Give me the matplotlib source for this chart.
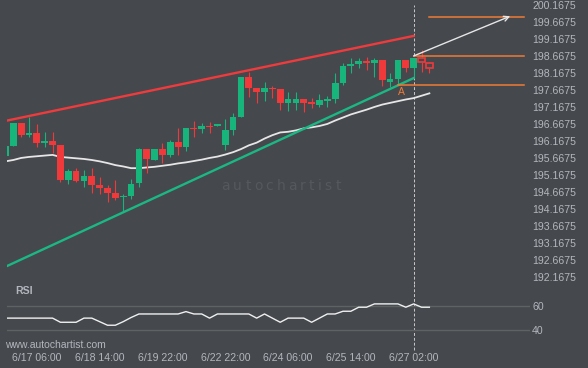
import matplotlib
matplotlib.use("Agg")
import matplotlib.pyplot as plt
from matplotlib.patches import Rectangle
import numpy as np

# 4h candles, GBP/JPY style chart
opens = [195.73, 196.02, 196.70, 196.34, 196.40, 196.09, 196.16, 196.04, 195.01, 195.28,
         194.99, 195.13, 194.86, 194.78, 194.63, 194.50, 194.55, 194.91, 195.92, 195.60,
         195.91, 195.75, 196.14, 195.99, 196.55, 196.52, 196.60, 196.61, 196.04, 196.48,
         196.87, 198.05, 197.73, 197.60, 197.71, 197.69, 197.29, 197.27, 197.38, 197.31,
         197.22, 197.34, 197.38, 197.87, 198.37, 198.41, 198.51, 198.44, 198.54, 197.90,
         197.97, 198.54, 198.31, 198.59, 198.44]
highs = [196.02, 196.70, 196.70, 196.87, 196.66, 196.43, 196.41, 196.04, 195.33, 195.37,
         195.31, 195.36, 195.11, 194.86, 195.01, 194.59, 195.03, 195.96, 195.92, 195.91,
         196.10, 196.19, 196.53, 196.53, 196.75, 196.70, 196.71, 196.63, 196.80, 196.97,
         198.05, 198.20, 197.73, 197.89, 197.78, 197.69, 197.60, 197.60, 197.38, 197.41,
         197.53, 197.48, 198.15, 198.44, 198.59, 198.59, 198.62, 198.59, 198.54, 198.17,
         198.54, 198.54, 198.59, 198.83, 198.49]
lows = [195.73, 196.02, 196.27, 196.28, 195.99, 195.99, 195.80, 194.96, 194.88, 194.96,
        194.80, 194.62, 194.59, 194.36, 194.42, 194.07, 194.44, 194.80, 195.23, 195.60,
        195.50, 195.70, 195.75, 195.87, 196.27, 196.40, 196.40, 196.61, 195.89, 196.34,
        196.87, 197.46, 197.27, 197.34, 197.43, 197.07, 197.04, 197.07, 197.02, 197.12,
        197.17, 197.17, 197.27, 197.81, 198.15, 198.30, 198.25, 198.03, 197.78, 197.76,
        197.81, 198.20, 198.05, 198.20, 198.17]
closes = [196.02, 196.70, 196.33, 196.40, 196.11, 196.16, 196.05, 195.01, 195.29, 194.98,
          195.13, 194.86, 194.78, 194.64, 194.49, 194.55, 194.89, 195.92, 195.62, 195.91,
          195.75, 196.14, 195.99, 196.53, 196.52, 196.60, 196.56, 196.63, 196.48, 196.86,
          198.05, 197.73, 197.60, 197.73, 197.68, 197.29, 197.38, 197.38, 197.29, 197.24,
          197.36, 197.38, 197.87, 198.36, 198.41, 198.51, 198.44, 198.54, 197.95, 197.97,
          198.54, 198.31, 198.59, 198.47, 198.30]
ma = [195.56, 195.60, 195.66, 195.69, 195.71, 195.73, 195.75, 195.69, 195.67, 195.65,
      195.63, 195.60, 195.56, 195.51, 195.45, 195.41, 195.36, 195.36, 195.38, 195.40,
      195.43, 195.46, 195.50, 195.53, 195.57, 195.61, 195.66, 195.70, 195.76, 195.83,
      195.92, 196.03, 196.11, 196.23, 196.33, 196.41, 196.43, 196.47, 196.53, 196.56,
      196.60, 196.66, 196.76, 196.85, 196.94, 197.01, 197.08, 197.16, 197.23, 197.28,
      197.33, 197.38, 197.42, 197.49, 197.56]
rsi = [50, 50, 50, 50, 50, 50, 50, 46.5, 46.5, 46.5,
       50, 50, 47, 44, 44, 47, 50.5, 53.5, 53.5, 53.5,
       53.5, 53.5, 53.5, 55.5, 53.5, 53.5, 50, 53.5, 53.5, 53.5,
       53.5, 53.5, 50, 53.5, 50, 46.5, 50, 50, 50, 46.5,
       50, 53.5, 53.5, 55.8, 55.8, 59.2, 59.2, 62, 62, 62,
       62, 59.2, 62, 59.2, 59.2]
n_forecast = 2  # last two candles drawn hollow

trend_x = [0, 52]
resistance = [196.75, 199.25]
support = [192.46, 198.01]
levels = [199.82, 198.65, 197.80]
level_start = [54, 52, 50]
arrow_from = (52, 198.66)
arrow_to = (64.3, 199.83)

tick_idx = [4, 12, 20, 28, 36, 44, 52]
tick_labels = ['6/17 06:00', '6/18 14:00', '6/19 22:00', '6/22 22:00',
               '6/24 06:00', '6/25 14:00', '6/27 02:00']
price_ticks = [192.1675 + 0.5 * k for k in range(17)]

bg = '#45484d'
up_col = '#17b57c'
dn_col = '#f0393b'
txt_col = '#b3b7bd'
orange = '#f07a35'
plt.rcParams['font.family'] = ['Liberation Sans', 'DejaVu Sans']

W, H = 588, 368
fig = plt.figure(figsize=(W / 100, H / 100), dpi=100, facecolor=bg)
ax = fig.add_axes([7 / W, (H - 284) / H, 523 / W, 284 / H], facecolor=bg)
rx = fig.add_axes([7 / W, (H - 352) / H, 523 / W, 68 / H], facecolor=bg, sharex=ax)

x = np.arange(len(opens))
n = len(opens)
for i in range(n):
    o, h, l, c = opens[i], highs[i], lows[i], closes[i]
    col = up_col if c >= o else dn_col
    body_lo, body_h = min(o, c), max(abs(c - o), 0.035)
    if i >= n - n_forecast:
        ax.vlines(i, l, body_lo, color=col, lw=0.8, zorder=3)
        ax.vlines(i, body_lo + body_h, h, color=col, lw=0.8, zorder=3)
        ax.bar(i, body_h, 0.8, bottom=body_lo, facecolor=bg, edgecolor=col, lw=1.2, zorder=4)
    else:
        ax.vlines(i, l, h, color=col, lw=0.8, zorder=3)
        ax.bar(i, body_h, 0.86, bottom=body_lo, color=col, lw=0, zorder=4)

ax.plot(x, ma, color='#e6e6e6', lw=1.3, zorder=2)
ax.plot(trend_x, resistance, color='#ee3b3d', lw=1.7, zorder=5)
ax.plot(trend_x, support, color='#1bb883', lw=1.7, zorder=5)

for lv, st in zip(levels, level_start):
    ax.plot([st, 66.1], [lv, lv], color=orange, lw=1.1, zorder=5)
ax.text(50.5, 197.61, 'A', color=orange, fontsize=7.5, ha='center', va='center', zorder=6)
ax.annotate('', xy=arrow_to, xytext=arrow_from,
            arrowprops=dict(arrowstyle='->', color='#e6e6e6', lw=1.0,
                            mutation_scale=9, shrinkA=0, shrinkB=0), zorder=6)

ax.axvline(52, ymin=0, ymax=1 - 5 / 284, color='#c9c9c9', lw=0.7, ls=(0, (3, 2)), zorder=1)
rx.axvline(52, ymin=2 / 68, ymax=1, color='#c9c9c9', lw=0.7, ls=(0, (3, 2)), zorder=1)

ax.set_xlim(0.197, 66.82)
ax.set_ylim(200.3057 - 284 / 34, 200.3057)
ax.yaxis.tick_right()
ax.set_yticks(price_ticks)
ax.set_yticklabels([f'{p:.4f}' for p in price_ticks])
ax.tick_params(axis='y', length=0, pad=1.5, labelsize=7.6, labelcolor=txt_col)
ax.tick_params(axis='x', length=0, labelbottom=False)

rx.plot(x, rsi, color='#f0f0f0', lw=1.0, zorder=3)
rx.axhline(60, color='#5e6362', lw=1.0, zorder=1)
rx.axhline(40, color='#5e6362', lw=1.0, zorder=1)
rx.set_ylim(21.4, 78.8)
rx.yaxis.tick_right()
rx.set_yticks([40, 60])
rx.set_yticklabels(['40', '60'])
rx.tick_params(axis='y', length=0, pad=1.5, labelsize=7.6, labelcolor=txt_col)
rx.set_xticks(tick_idx)
rx.set_xticklabels(tick_labels)
rx.tick_params(axis='x', length=0, pad=0.5, labelsize=7.6, labelcolor=txt_col)

for a in (ax, rx):
    for s in a.spines.values():
        s.set_visible(False)

fig.text(15 / W, 1 - 291 / H, 'RSI', color=txt_col, fontsize=7.6, fontweight='bold',
         ha='left', va='center')
fig.text(5.5 / W, 1 - 344.7 / H, 'www.autochartist.com', color=txt_col, fontsize=7.5,
         ha='left', va='center')

# faint watermark, wide letter spacing
wm = '#55585d'
cx = 221.5
for ch, w in zip('autochartist', [.613, .634, .392, .612, .550, .634, .613, .411, .392, .278, .521, .392]):
    fig.text(cx / W, 1 - 189.5 / H, ch, color=wm, fontsize=10, family='DejaVu Sans',
             ha='left', va='baseline', zorder=0)
    cx += w * 13.9 + 3.2
for bx, by0, by1 in [(187, 181.7, 190), (193.5, 176.7, 188.3), (199.5, 171.7, 180),
                     (207, 166.7, 176), (213.5, 164, 174), (220, 163.3, 170),
                     (227, 166, 173), (235, 160, 166)]:
    fig.add_artist(Rectangle((bx / W, 1 - by1 / H), 3 / W, (by1 - by0) / H,
                             transform=fig.transFigure, color=wm, lw=0, zorder=0))

fig.savefig('out.png', dpi=100, facecolor=bg)
